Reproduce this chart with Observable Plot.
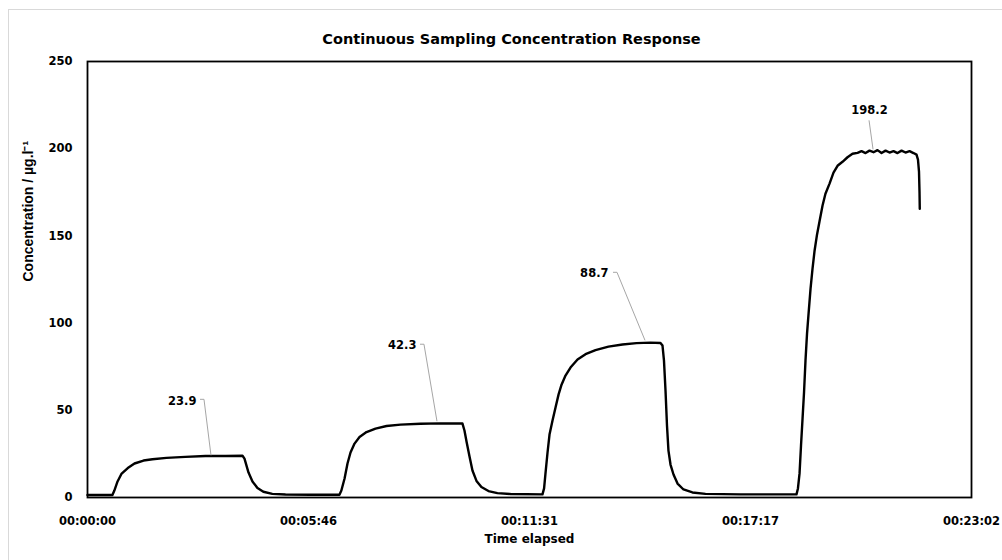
<!DOCTYPE html>
<html><head><meta charset="utf-8">
<script src="https://cdn.jsdelivr.net/npm/d3@7"></script>
<script src="https://cdn.jsdelivr.net/npm/@observablehq/plot@0.6"></script>
<style>
html,body{margin:0;padding:0;background:#fff;overflow:hidden;}
#wrap{position:relative;width:1002px;height:560px;overflow:hidden;}
#border{position:absolute;left:8px;top:9px;width:1100px;height:700px;border-left:1px solid #d9d9d9;border-top:1px solid #d9d9d9;box-sizing:border-box;}
#chart{position:absolute;left:0;top:0;}
</style></head><body>
<div id="wrap"><div id="border"></div><div id="chart"></div></div>
<script>
// Elapsed time (seconds) and measured concentration (µg/l)
const timeSec = [
  0, 20, 39, 42, 47, 53, 63, 73.5, 87.6, 101.6, 123.5, 153, 184.5, 216, 242.4,
  245.5, 251.8, 258, 265.8, 275, 289, 309.6, 348.7, 394,
  397, 402, 406.6, 411.3, 417.6, 425.4, 436.3, 450.4, 467.6, 489.5, 520.7, 552, 586.4,
  589.5, 592.7, 597.4, 602, 608.3, 616, 627, 641, 661.5, 711.5,
  714, 716.2, 719.4, 722.5, 727.2, 731.9, 736.6, 741.3, 747.5, 755.3, 766.3, 778.8, 794.4, 814.7, 836.6, 858.5, 880.4, 896,
  899.2, 901.5, 903.9, 906.2, 908.5, 911.7, 916.4, 922.7, 932, 946, 966.4, 1021, 1108.7,
  1111, 1113.5, 1115.8, 1118.2, 1120.5, 1122.8, 1125.2, 1127.6, 1130.7, 1133.8, 1137, 1140.8, 1144.7, 1149.4, 1154, 1160.4, 1166.6, 1172.9, 1180.7, 1188.5, 1196.3, 1204.2,
  1210.4, 1216.7, 1222.9, 1229.2, 1235.4, 1241.7, 1248, 1254.2, 1260.4, 1266.7, 1273, 1279.2, 1285.5, 1291.7, 1296.4, 1298.7, 1300.3, 1301.1, 1301.5
];
const concentration = [
  1.4, 1.4, 1.4, 4.0, 9.2, 13.5, 16.9, 19.5, 21.2, 21.9, 22.7, 23.3, 23.8, 23.8, 23.9,
  22.3, 14.3, 9.2, 5.4, 3.3, 2.1, 1.7, 1.6, 1.6,
  4.0, 10.9, 19.5, 25.8, 30.9, 34.7, 37.5, 39.5, 41.0, 41.8, 42.3, 42.5, 42.4,
  38.4, 32.1, 23.5, 15.5, 9.5, 6.0, 3.7, 2.5, 2.0, 1.8,
  5.2, 13.8, 25.8, 36.1, 44.1, 51.6, 59.0, 64.7, 69.9, 74.5, 79.1, 82.2, 84.5, 86.5, 87.7, 88.5, 88.8, 88.6,
  87.1, 78.5, 61.3, 41.3, 26.9, 18.9, 13.2, 8.0, 4.6, 2.9, 2.1, 1.8, 1.8,
  5.2, 13.8, 29.8, 45.3, 60.2, 78.5, 94.0, 105.4, 119.8, 131.3, 141.5, 150.7, 158.2, 167.3, 174.2, 180.0, 186.3, 190.2, 192.5, 195.1, 197.1, 197.6,
  198.6, 197.5, 198.9, 198.0, 199.2, 197.5, 198.9, 197.8, 198.6, 197.5, 198.9, 197.8, 198.6, 197.5, 196.6, 193.7, 186.9, 175.4, 165.6
];
// Axis ticks
const xTickValues = [0, 345.6, 691.2, 1036.8, 1382.4];
const xTickLabels = ["00:00:00", "00:05:46", "00:11:31", "00:17:17", "00:23:02"];
const yTicks = [0, 50, 100, 150, 200, 250];
// Annotated plateau values
const peakTime = [193.9, 547.3, 872.6, 1229.2];
const peakValue = [23.9, 42.3, 88.7, 198.2];
// Texts
const titleText = "Continuous Sampling Concentration Response";
const xTitle = "Time elapsed";
const yTitle = "Concentration / µg.l⁻¹";

const series = timeSec.map((t, i) => ({t, c: concentration[i]}));
const peaks = peakTime.map((t, i) => ({t, c: peakValue[i]}));
const xLabelMap = new Map(xTickValues.map((v, i) => [v, xTickLabels[i]]));

// label placement (pixel offsets from the annotated point)
const labelLayout = [
  {dx: -15, dy: -55, anchor: "end",    path: [[-11, -56], [-7, -56], [0, 0]]},
  {dx: -21, dy: -78, anchor: "end",    path: [[-17, -79], [-13, -79], [0, -2]]},
  {dx: -37, dy: -69, anchor: "end",    path: [[-32, -70], [-28, -70], [0, -2]]},
  {dx: -4,  dy: -42, anchor: "middle", path: [[-4, -31], [0, -2]]}
];

const font = "'DejaVu Sans', sans-serif";
const chart = Plot.plot({
  width: 1002, height: 560,
  marginLeft: 87, marginRight: 31, marginTop: 61, marginBottom: 63,
  style: {fontFamily: font, fontSize: "11.5px", fontWeight: "bold", color: "#000", background: "transparent", overflow: "visible"},
  x: {domain: [0, 1382.4]},
  y: {domain: [0, 250]},
  marks: [
    Plot.axisX(xTickValues, {tickSize: 0, tickPadding: 19, tickFormat: d => xLabelMap.get(d), label: null}),
    Plot.axisY(yTicks, {tickSize: 0, tickPadding: 15, label: null}),
    Plot.line(series, {x: "t", y: "c", stroke: "#000", strokeWidth: 2.4}),
    Plot.frame({stroke: "#000", strokeWidth: 1.8}),
    ...peaks.map((p, i) => Plot.text([p], {x: "t", y: "c", text: d => d.c.toFixed(1), dx: labelLayout[i].dx, dy: labelLayout[i].dy, textAnchor: labelLayout[i].anchor, fontSize: 11.5, fontWeight: "bold", fill: "#000"})),
    Plot.text([titleText], {text: d => d, frameAnchor: "top", dy: -28, dx: -18, fontSize: 14.5, fontWeight: "bold", fill: "#000"}),
    Plot.text([xTitle], {text: d => d, frameAnchor: "bottom", dy: 45, fontSize: 12, fontWeight: "bold", fill: "#000"}),
    Plot.text([yTitle], {text: d => d, frameAnchor: "left", dx: -59, dy: 2, rotate: -90, fontFamily: "'Liberation Sans', sans-serif", fontSize: 14, fontWeight: "bold", fill: "#000"})
  ]
});

// leader lines from labels to their points, positioned via the plot's scales
const sx = chart.scale("x"), sy = chart.scale("y");
const g = d3.select(chart).append("g").attr("fill", "none").attr("stroke", "#a6a6a6").attr("stroke-width", 1);
peaks.forEach((p, i) => {
  const px = sx.apply(p.t), py = sy.apply(p.c);
  g.append("path").attr("d", d3.line()(labelLayout[i].path.map(([a, b]) => [px + a, py + b])));
});

document.getElementById("chart").appendChild(chart);
</script>
</body></html>
